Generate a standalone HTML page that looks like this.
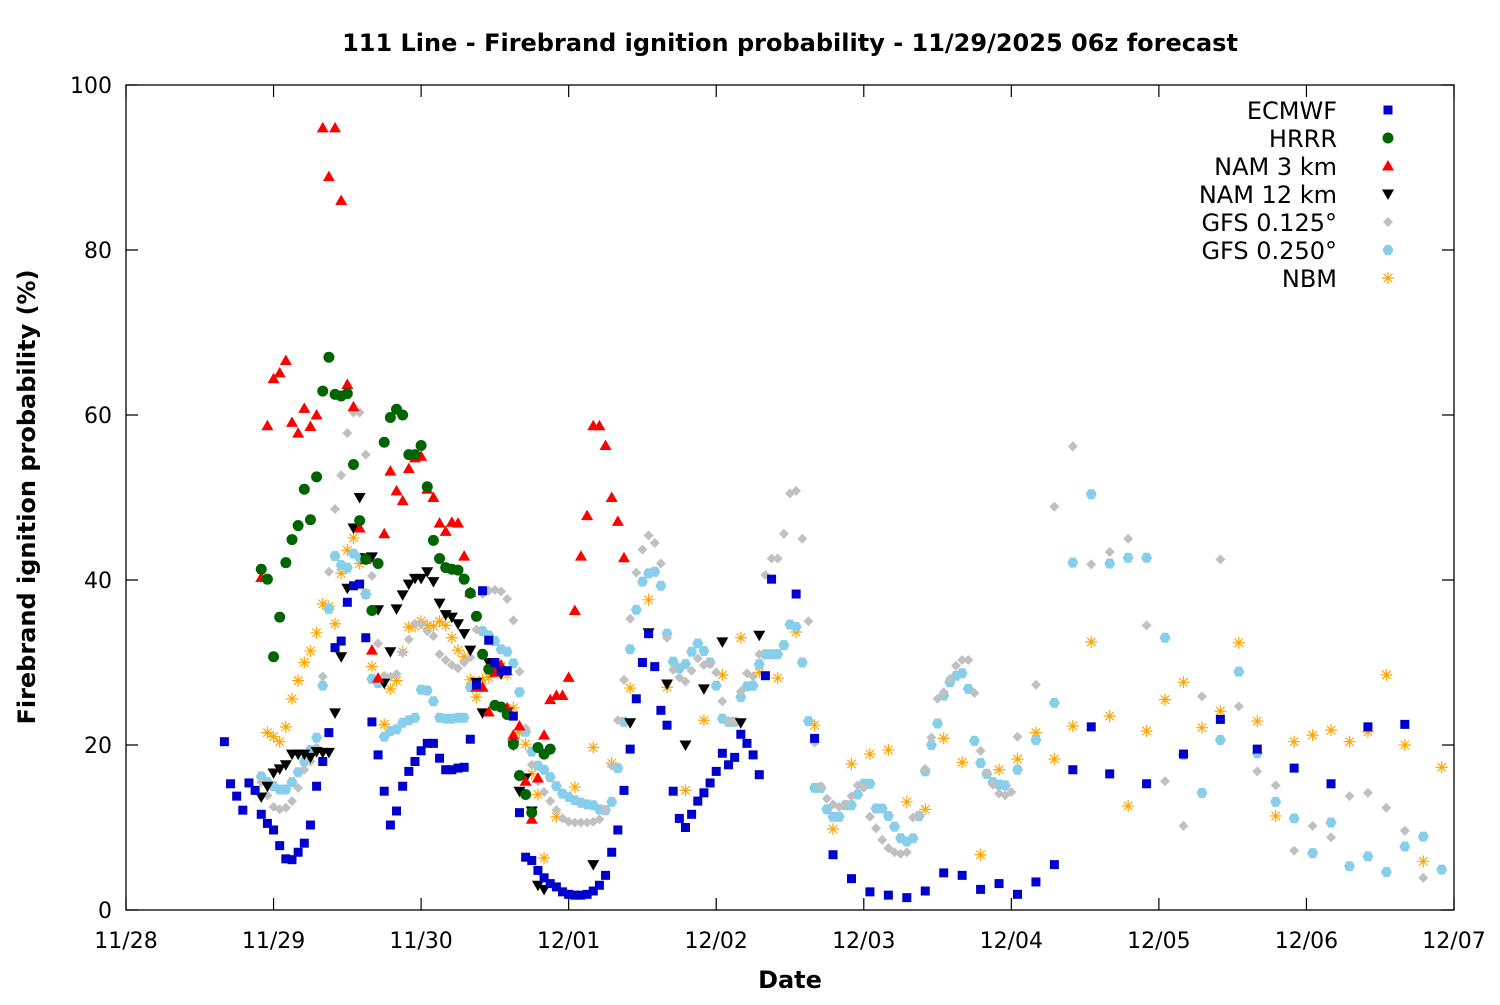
<!DOCTYPE html>
<html><head><meta charset="utf-8"><style>
body{margin:0;background:#fff}
svg text{font-family:"DejaVu Sans","Liberation Sans",sans-serif;fill:#000}
</style></head><body>
<svg id="chart" width="1500" height="1000" xmlns="http://www.w3.org/2000/svg">
<rect width="1500" height="1000" fill="#fff"/>
<text x="790" y="51" text-anchor="middle" font-size="24" font-weight="bold">111 Line - Firebrand ignition probability - 11/29/2025 06z forecast</text>
<g id="axes"></g>
<g id="marks"></g>
<rect x="126" y="85" width="1328" height="825" fill="none" stroke="#000" stroke-width="1.3"/>
<text x="790" y="988" text-anchor="middle" font-size="24" font-weight="bold">Date</text>
<text transform="translate(35,497) rotate(-90)" text-anchor="middle" font-size="24" font-weight="bold">Firebrand ignition probability (%)</text>
<g id="legend"></g>
</svg>
<script>
function range(a,b,s){const r=[];for(let v=a;v<=b;v+=s)r.push(v);return r;}
const xTickLabels=["11/28","11/29","11/30","12/01","12/02","12/03","12/04","12/05","12/06","12/07"];
const yTicks=[0,20,40,60,80,100];
const seriesNames=["ECMWF","HRRR","NAM 3 km","NAM 12 km","GFS 0.125°","GFS 0.250°","NBM"];

const ecmwfT=range(16,105,1).concat([109,112,115,118,121,124,127,130,133,136,139,142,145,148,151,154,157,160,166,172,178,184,190,196,202,208]);
const ecmwfV=[20.4,15.3,13.8,12.1,15.4,14.5,11.6,10.5,9.7,7.8,6.2,6.1,7.0,8.1,10.3,15,18,21.5,31.8,32.6,37.3,39.3,39.5,33,22.8,18.8,14.4,10.3,12,15,16.8,18,19.3,20.2,20.2,18.4,17,17,17.2,17.3,20.7,27.3,38.7,32.7,30,29,29,23.5,11.8,6.4,6,4.8,3.9,3.2,2.8,2.2,1.9,1.8,1.8,1.9,2.3,3,4.2,7,9.7,14.5,19.5,25.6,30,33.5,29.5,24.2,22.4,14.4,11.1,10,11.6,13.2,14.2,15.4,16.8,19,17.6,18.5,21.3,20.2,18.8,16.4,28.4,40.1,
38.3,20.8,6.7,3.8,2.2,1.8,1.5,2.3,4.5,4.2,2.5,3.2,1.9,3.4,5.5,17,22.2,16.5,15.3,18.9,23.1,19.5,17.2,15.3,22.2,22.5];

const hrrrT=range(22,69,1);
const hrrrV=[41.3,40.1,30.7,35.5,42.1,44.9,46.6,51,47.3,52.5,62.9,67,62.5,62.3,62.6,54,47.2,42.5,36.3,42,56.7,59.7,60.7,60,55.2,55.2,56.3,51.3,44.8,42.6,41.5,41.3,41.2,40.1,38.4,35.6,31,29.2,24.8,24.6,23.7,20.1,16.3,14,11.8,19.7,18.9,19.5];

const nam3T=range(22,81,1);
const nam3V=[40.3,58.7,64.4,65.1,66.6,59.1,57.8,60.8,58.6,60,94.8,88.9,94.8,86,63.7,61,46.3,42.5,31.5,28.1,45.6,53.2,50.8,49.6,53.5,54.8,55,51,50,46.9,45.9,47,46.9,42.9,38.5,27,27,24,28.8,29.7,24.5,21.2,22.3,15.6,11,16,21.2,25.5,26,26,28.2,36.3,42.9,47.8,58.7,58.7,56.3,50,47.1,42.7];

const nam12T=range(22,68,1).concat([76,82,85,88,91,94,97,100,103]);
const nam12V=[13.7,15,16.6,17.1,17.6,18.9,18.9,18.9,18.5,19.2,19.1,19.1,23.9,30.7,39,46.3,50,42.7,42.8,36.4,27.5,31.3,36.5,38.2,39.5,40.2,40.2,41,39.8,37.2,35.8,35.5,34.7,33.5,31.5,27.6,23.9,30,29.5,28.6,24,20,14.4,16,12,3,2.5,
5.5,22.7,33.6,27.4,20,26.8,32.5,22.7,33.3];

const gfs125T=range(22,145,1).concat(range(148,214,3));
const gfs125V=[15.5,13.9,12.5,12.2,12.4,13.2,14.8,17,18,19.7,28.3,41,48.6,52.7,57.8,60.3,60.3,55.2,40.5,32.3,28.4,28.3,28.6,31.2,32.8,34.7,34.6,33.8,33.2,31,30.3,29.7,29.3,30,30.6,34,38.3,38.7,38.8,38.6,37.7,35.1,28.9,22,17.6,15.6,14.3,13.2,12.1,11.1,10.7,10.6,10.6,10.6,10.7,11,12.2,17.5,23,27.9,35.3,40.9,43.7,45.4,44.5,42,33,29.1,28.2,27.7,29,30.5,29.7,29.8,28.8,25.3,22.9,22.7,26.5,28.7,28.3,31,40.6,42.6,42.6,45.6,50.5,50.8,45,35,20.3,
15,13.5,12.8,12.5,12.8,13.8,15.1,14.8,11.3,9.9,8.5,7.5,7.0,6.8,7.0,11.2,11.5,17.1,20.9,25.6,26.4,28,29.6,30.3,30.3,26.3,19.3,16.6,15.2,14.1,13.9,14.3,
21,27.3,48.9,56.2,41.9,43.4,45,34.5,15.6,10.2,25.9,42.5,24.7,16.8,15.1,7.2,10.2,8.8,13.8,14.2,12.4,9.6,3.9];

const gfs250T=range(22,143,1).concat([145]).concat(range(148,214,3));
const gfs250V=[16.2,15.5,15,14.6,14.6,15.5,16.7,18,19.4,20.9,27.2,36.5,42.9,41.8,41.5,43.2,42.7,38.3,28,27.5,21,21.7,21.9,22.7,23,23.3,26.7,26.6,25.3,23.3,23.2,23.2,23.3,23.3,27,27.5,33.8,33.3,32.6,31.6,31.3,29.9,26.4,21.6,19.2,17.5,17,16.1,15,14.1,13.7,13.3,13,12.8,12.7,12.2,12.1,13.1,17.2,22.8,31.6,36.4,39.8,40.8,41,39.3,33.5,30.1,29.3,29.8,31.3,32.3,31.4,30,27.2,23.2,22.8,22.8,25.8,27.1,27.2,29.8,31,31,31,32.1,34.6,34.3,30,22.9,14.8,14.8,12.2,11.3,11.3,12.7,12.7,14,15.3,15.3,12.3,12.3,11.4,10.1,8.7,8.3,8.7,11.4,16.8,20,22.6,26,27.6,28.4,28.7,26.8,20.5,17.8,16.5,15.5,15.2,15.1,
17,20.6,25.1,42.1,50.4,42,42.7,42.7,33,18.8,14.2,20.6,28.9,19,13.1,11.1,6.9,10.6,5.3,6.5,4.6,7.7,8.9,4.9];

const nbmT=range(23,67,1).concat([68,70]).concat(range(73,214,3));
const nbmV=[21.5,21,20.4,22.2,25.6,27.8,30,31.4,33.6,37.1,36.8,34.7,40.8,43.6,45.1,42,38.3,29.5,27.9,22.5,26.8,27.8,31.3,34.3,34.4,35,34.5,34.4,35,34.5,33,31.5,30.7,27.9,25.8,27.9,28.2,29.5,29.5,28.5,24.5,21.5,20.1,16.5,14,
6.3,11.3,14.9,19.7,17.8,26.9,37.6,27,14.5,23,28.5,33,28.8,28.1,33.7,22.4,9.8,17.7,18.9,19.4,13.1,12.2,20.8,17.9,6.7,17,18.3,21.5,18.3,22.3,32.5,23.5,12.6,21.7,25.5,27.6,22.1,24.1,32.4,22.9,11.4,20.4,21.2,21.8,20.4,21.6,28.5,20,5.9,17.3];

const X0=126,X1=1454,Y0=910,Y1=85;
function xs(h){return X0+(X1-X0)*h/216;}
function ys(v){return Y0-(Y0-Y1)*v/100;}
const NS="http://www.w3.org/2000/svg";
function mk(tag,attrs,parent){const e=document.createElementNS(NS,tag);for(const k in attrs)e.setAttribute(k,attrs[k]);parent.appendChild(e);return e;}
const axes=document.getElementById('axes');
yTicks.forEach(v=>{
  const y=ys(v);
  const t=mk('path',{d:`M${X0} ${y}h12M${X1} ${y}h-12`,stroke:'#000','stroke-width':1.2},axes);
  
  
  const l=mk('text',{x:X0-14,y:y+8,'text-anchor':'end','font-size':22},axes);
  l.textContent=v;
  
  
});
xTickLabels.forEach((s,i)=>{
  const x=xs(i*24);
  const t=mk('path',{d:`M${x} ${Y0}v-12M${x} ${Y1}v12`,stroke:'#000','stroke-width':1.2},axes);
  
  
  const l=mk('text',{x:x,y:948,'text-anchor':'middle','font-size':22},axes);
  l.textContent=s;
  
  
});
function marker(type,x,y,g){
  let e;
  if(type===0)e=mk('rect',{x:x-4.5,y:y-4.5,width:9,height:9,fill:'#0000cc'},g);
  else if(type===1)e=mk('circle',{cx:x,cy:y,r:5.5,fill:'#006400'},g);
  else if(type===2)e=mk('path',{d:`M${x} ${y-6}L${x+6} ${y+4.5}L${x-6} ${y+4.5}Z`,fill:'#ff0000'},g);
  else if(type===3)e=mk('path',{d:`M${x} ${y+6}L${x+6} ${y-4.5}L${x-6} ${y-4.5}Z`,fill:'#000'},g);
  else if(type===4)e=mk('path',{d:`M${x} ${y-5}L${x+5} ${y}L${x} ${y+5}L${x-5} ${y}Z`,fill:'#c0c0c0'},g);
  else if(type===5)e=mk('path',{d:`M${x-2.8} ${y-5}L${x+2.8} ${y-5}L${x+5.5} ${y}L${x+2.8} ${y+5}L${x-2.8} ${y+5}L${x-5.5} ${y}Z`,fill:'#87ceeb'},g);
  else e=mk('path',{d:`M${x-6} ${y}h12M${x} ${y-6}v12M${x-4.2} ${y-4.2}l8.4 8.4M${x-4.2} ${y+4.2}l8.4 -8.4`,stroke:'#ffa500','stroke-width':1.2,fill:'none'},g);
  return e;
}
const series=[[ecmwfT,ecmwfV],[hrrrT,hrrrV],[nam3T,nam3V],[nam12T,nam12V],[gfs125T,gfs125V],[gfs250T,gfs250V],[nbmT,nbmV]];
const marks=document.getElementById('marks');
const order=[6,5,4,3,2,1,0];
order.forEach(si=>{
  const g=mk('g',{},marks);
  
  
  const [T,V]=series[si];
  for(let i=0;i<Math.min(T.length,V.length);i++){
    const m=marker(si,xs(T[i]),ys(V[i]),g);
    
    
  }
});
const leg=document.getElementById('legend');
seriesNames.forEach((n,i)=>{
  const y=110+i*28;
  const t=mk('text',{x:1337,y:y+9,'text-anchor':'end','font-size':24},leg);
  t.textContent=n;
  
  
  const m=marker(i,1388,y,leg);
  
  
});
</script>
</body></html>
